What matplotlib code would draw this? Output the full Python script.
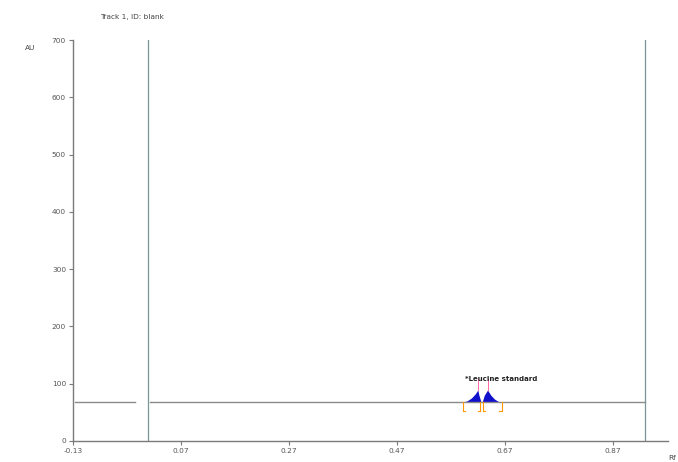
import matplotlib
matplotlib.use("Agg")
import matplotlib.pyplot as plt

# ---- data ----
title = "Track 1, ID: blank"
y_ticks = [0, 100, 200, 300, 400, 500, 600, 700]
x_ticks = [-0.13, 0.07, 0.27, 0.47, 0.67, 0.87]
x_tick_labels = ["-0.13", "0.07", "0.27", "0.47", "0.67", "0.87"]

baseline_au = 68
base_left_rf = [-0.126, -0.015]
base_right_rf = [0.013, 0.93]
marker_lines_rf = [0.009, 0.93]

peak1_rf = [0.592, 0.600, 0.608, 0.615, 0.620, 0.622, 0.626]
peak1_au = [68, 70, 75, 82, 89, 80, 68]
peak2_rf = [0.628, 0.632, 0.638, 0.644, 0.651, 0.660]
peak2_au = [68, 80, 89, 80, 73, 68]
peak_apex_rf = [0.620, 0.638]
peak_bounds_rf = [(0.592, 0.624), (0.629, 0.664)]
peak_label = "*Leucine standard"
peak_label_rf = 0.596
peak_label_au = 103

fig = plt.figure(figsize=(6.78, 4.62), dpi=100)
ax = fig.add_axes([0.1077, 0.0455, 0.8773, 0.8679])
ax.set_xlim(-0.13, 0.972)
ax.set_ylim(0, 700)

grey = "#7a7a7a"
for s in ["top", "right"]:
    ax.spines[s].set_visible(False)
for s in ["left", "bottom"]:
    ax.spines[s].set_color(grey)
    ax.spines[s].set_linewidth(1.0)

ax.set_yticks(y_ticks)
ax.set_yticklabels([str(v) for v in y_ticks], fontsize=5.3, color="#555555")
ax.set_xticks(x_ticks)
ax.set_xticklabels(x_tick_labels, fontsize=5.3, color="#555555")
ax.tick_params(axis="both", length=3, width=0.8, color=grey, pad=2)

# baseline segments
ax.plot(base_left_rf, [baseline_au, baseline_au], color="#8a8a8a", lw=1.0)
ax.plot(base_right_rf, [baseline_au, baseline_au], color="#8a8a8a", lw=1.0)

# start / front lines
for xr in marker_lines_rf:
    ax.axvline(xr, color="#7a9595", lw=0.9)

# peaks
ax.fill_between(peak1_rf, baseline_au, peak1_au, color="#1010cc", lw=0)
ax.fill_between(peak2_rf, baseline_au, peak2_au, color="#1010cc", lw=0)
for xr in peak_apex_rf:
    ax.plot([xr, xr], [89, 108], color="#ff66aa", lw=0.7)

# integration brackets
for (a, b) in peak_bounds_rf:
    for xr, d in [(a, 0.004), (b, -0.004)]:
        ax.plot([xr, xr], [baseline_au, baseline_au - 16], color="#ff9900", lw=0.8)
        ax.plot([xr, xr + d], [baseline_au - 16, baseline_au - 16], color="#ff9900", lw=0.8)

ax.text(peak_label_rf, peak_label_au, peak_label, fontsize=5, fontweight="bold",
        color="#222222", ha="left", va="bottom")

fig.text(100 / 678, 1 - 17 / 462, title, fontsize=5.3, color="#444444", ha="left", va="center")
fig.text(25 / 678, 1 - 48 / 462, "AU", fontsize=5.3, color="#444444", ha="left", va="center")
fig.text(672 / 678, 1 - 458 / 462, "Rf", fontsize=5.3, color="#444444", ha="center", va="center")

fig.savefig("out.png", dpi=100)
